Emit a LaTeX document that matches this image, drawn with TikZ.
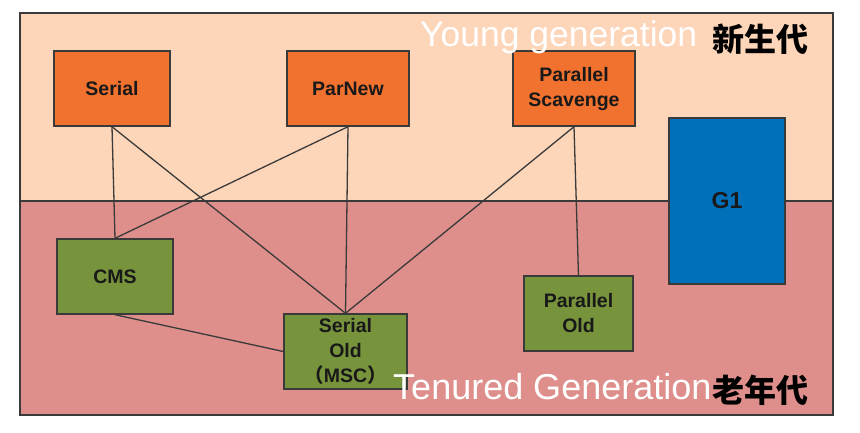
\documentclass[tikz,border=0pt]{standalone}
\usepackage{fontspec}
\setmainfont{Liberation Sans}
\newfontfamily\cjk{Noto Sans CJK SC}
\definecolor{younggen}{HTML}{FDD5B9}
\definecolor{oldgen}{HTML}{DE8F8B}
\definecolor{gcorange}{HTML}{F1712F}
\definecolor{gcgreen}{HTML}{77933C}
\definecolor{gcblue}{HTML}{0070BB}
\definecolor{edge}{HTML}{3A3A3A}

\begin{document}
\begin{tikzpicture}[x=1pt, y=-1pt,
    gc/.style={draw=edge, line width=1.4pt, inner sep=0pt, align=center,
        text=black!90, font=\bfseries\fontsize{19.5}{25}\selectfont},
    newgc/.style={gc, fill=gcorange},
    oldgc/.style={gc, fill=gcgreen},
    link/.style={edge, line width=1.3pt}]
    \useasboundingbox (0, 0) rectangle (860, 432);

    % Heap regions
    \fill[younggen] (20, 13) rectangle (833, 201);
    \fill[oldgen] (20, 201) rectangle (833, 415);
    \draw[edge, line width=1.4pt] (20, 201) -- (833, 201);
    \draw[edge, line width=1.6pt] (20, 13) rectangle (833, 415);

    % Young generation collectors
    \node[newgc, minimum width=116pt, minimum height=75pt] (serial) at (112, 88.5) {Serial};
    \node[newgc, minimum width=122pt, minimum height=75pt] (parnew) at (348, 88.5) {ParNew};
    \node[newgc, minimum width=122pt, minimum height=75pt] (pscav) at (574, 88.5) {Parallel\\Scavenge};

    % Tenured generation collectors
    \node[oldgc, minimum width=116pt, minimum height=75pt] (cms) at (115, 276.5) {CMS};
    \node[oldgc, minimum width=123pt, minimum height=75pt] (serialold) at (345.5, 351.5)
        {Serial\\Old\\{\cjk （}MSC{\cjk ）}};
    \node[oldgc, minimum width=109pt, minimum height=75pt] (parold) at (578.5, 313.5) {Parallel\\Old};

    % G1 spans both generations
    \node[gc, fill=gcblue, minimum width=116pt, minimum height=166pt,
        font=\bfseries\fontsize{23}{26}\selectfont] (g1) at (727, 201) {G1};

    % Which collectors work together
    \draw[link] (serial.south) -- (cms.north);
    \draw[link] (serial.south) -- (serialold.north);
    \draw[link] (parnew.south) -- (cms.north);
    \draw[link] (parnew.south) -- (serialold.north);
    \draw[link] (pscav.south) -- (serialold.north);
    \draw[link] (pscav.south) -- (parold.north);
    \draw[link] (cms.south) -- (serialold.west);

    % Region captions
    \node[white, anchor=base west, inner sep=0pt, font=\fontsize{35.5}{40}\selectfont]
        (younglbl) at (420, 46) {Young generation};
    \node[anchor=base west, inner sep=0pt, font=\cjk\bfseries\fontsize{32}{36}\selectfont]
        (youngcn) at (712, 51) {新生代};
    \node[white, anchor=base west, inner sep=0pt, font=\fontsize{36}{40}\selectfont]
        (oldlbl) at (393, 399) {Tenured Generation};
    \node[anchor=base west, inner sep=0pt, font=\cjk\bfseries\fontsize{32}{36}\selectfont]
        (oldcn) at (712, 402) {老年代};
\end{tikzpicture}
\end{document}
